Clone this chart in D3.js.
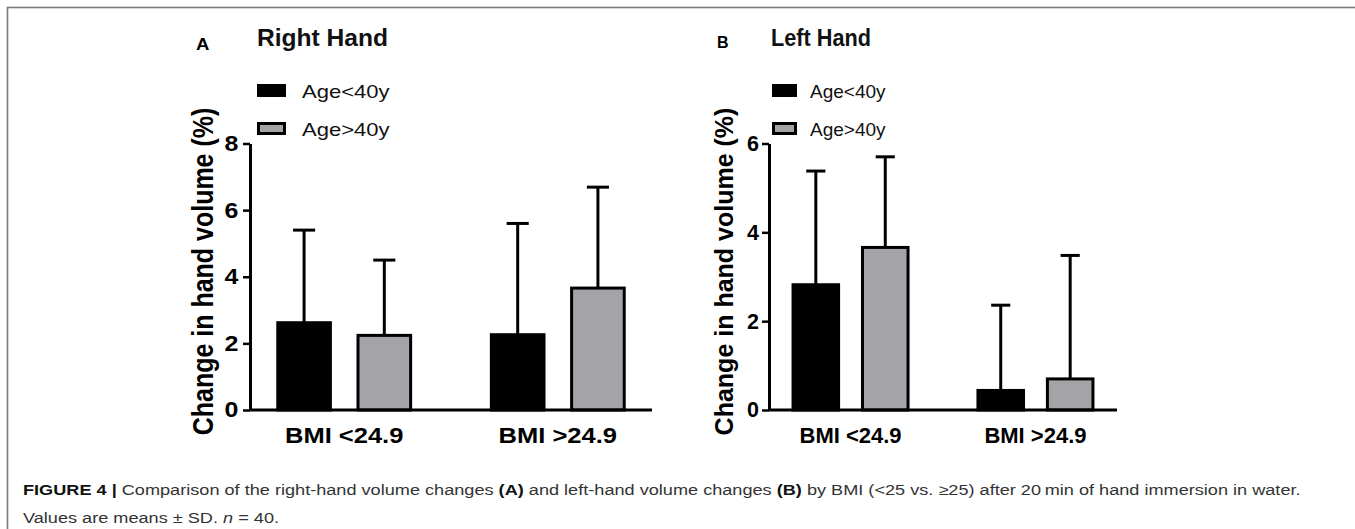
<!DOCTYPE html>
<html>
<head>
<meta charset="utf-8">
<script src="https://cdn.jsdelivr.net/npm/d3@7"></script>
<style>
  html, body { margin: 0; padding: 0; background: #fff; }
  svg { display: block; }
</style>
</head>
<body>
<svg id="chart" width="1355" height="529"></svg>
<script>
// ---------- DATA ----------
const groups = ["BMI <24.9", "BMI >24.9"];
const seriesNames = ["Age<40y", "Age>40y"];

// Panel A: Right hand
const rightYoungMean = [2.62, 2.26];
const rightYoungSD   = [2.78, 3.34];
const rightOldMean   = [2.24, 3.66];
const rightOldSD     = [2.26, 3.03];
const rightTicks     = [0, 2, 4, 6, 8];

// Panel B: Left hand
const leftYoungMean = [2.82, 0.44];
const leftYoungSD   = [2.56, 1.92];
const leftOldMean   = [3.66, 0.70];
const leftOldSD     = [2.04, 2.78];
const leftTicks     = [0, 2, 4, 6];

const yLabel = "Change in hand volume (%)";

// ---------- STYLE ----------
const colors = ["#000000", "#a4a3a8"];
const svg = d3.select("#chart");

// frame
svg.append("rect")
  .attr("x", 7.5).attr("y", 7.5).attr("width", 1400).attr("height", 600)
  .attr("fill", "none").attr("stroke", "#7a7a7a").attr("stroke-width", 1.6);

function panel(cfg) {
  const g = svg.append("g");
  const y = d3.scaleLinear().domain([0, d3.max(cfg.ticks)]).range([410, 143.5]);
  const x0 = d3.scaleBand().domain(groups).range([cfg.axisX, cfg.xEnd])
    .paddingInner(0.378).paddingOuter(0.13);
  const x1 = d3.scaleBand().domain(seriesNames).range([0, x0.bandwidth()])
    .paddingInner(0.344).paddingOuter(0);

  const rows = [];
  groups.forEach((grp, i) => {
    seriesNames.forEach((s, j) => {
      rows.push({ grp, s, j, mean: cfg.means[j][i], sd: cfg.sds[j][i] });
    });
  });

  // error bars (drawn behind bars)
  const capW = x1.bandwidth() * 0.42;
  rows.forEach(d => {
    const cx = x0(d.grp) + x1(d.s) + x1.bandwidth() / 2;
    g.append("line").attr("x1", cx).attr("x2", cx)
      .attr("y1", y(d.mean)).attr("y2", y(d.mean + d.sd))
      .attr("stroke", "#000").attr("stroke-width", 3);
    g.append("line").attr("x1", cx - capW / 2).attr("x2", cx + capW / 2)
      .attr("y1", y(d.mean + d.sd)).attr("y2", y(d.mean + d.sd))
      .attr("stroke", "#000").attr("stroke-width", 3);
  });

  // bars
  g.selectAll("rect.bar").data(rows).join("rect")
    .attr("class", "bar")
    .attr("x", d => x0(d.grp) + x1(d.s))
    .attr("width", x1.bandwidth())
    .attr("y", d => y(d.mean))
    .attr("height", d => y(0) - y(d.mean))
    .attr("fill", d => colors[d.j])
    .attr("stroke", "#000").attr("stroke-width", 3);

  // y axis
  const ax = g.append("g").attr("transform", `translate(${cfg.axisX},0)`)
    .call(d3.axisLeft(y).tickValues(cfg.ticks).tickFormat(d3.format("d"))
      .tickSize(7).tickSizeOuter(0).tickPadding(3));
  ax.select(".domain").attr("stroke", "#000").attr("stroke-width", 3);
  ax.selectAll(".tick line").attr("stroke", "#000").attr("stroke-width", 2.5);
  ax.selectAll(".tick text")
    .attr("font-family", "Liberation Sans, Arial, sans-serif")
    .attr("font-weight", "bold").attr("font-size", 21.5).attr("fill", "#000")
    .attr("transform", `scale(${cfg.sx},1)`);

  // x axis baseline
  g.append("line").attr("x1", cfg.axisX).attr("x2", cfg.xEnd)
    .attr("y1", y(0)).attr("y2", y(0))
    .attr("stroke", "#000").attr("stroke-width", 3);

  // x labels
  groups.forEach(grp => {
    const cx = x0(grp) + x0.bandwidth() / 2;
    g.append("text")
      .attr("transform", `translate(${cx},443) scale(${cfg.sx},1)`)
      .attr("text-anchor", "middle")
      .attr("font-family", "Liberation Sans, Arial, sans-serif")
      .attr("font-weight", "bold").attr("font-size", 22).attr("fill", "#000")
      .text(grp);
  });

  // y label
  g.append("text")
    .attr("transform", `translate(${cfg.yLabelX},271.5) scale(${cfg.sx},1) rotate(-90)`)
    .attr("text-anchor", "middle")
    .attr("font-family", "Liberation Sans, Arial, sans-serif")
    .attr("font-weight", "bold").attr("font-size", 25).attr("fill", "#000")
    .text(yLabel);

  // panel letter
  g.append("text")
    .attr("transform", `translate(${cfg.letterX},${cfg.letterY}) scale(${cfg.sx},1)`)
    .attr("font-family", "Liberation Sans, Arial, sans-serif")
    .attr("font-weight", "bold").attr("font-size", 16).attr("fill", "#000")
    .text(cfg.letter);

  // title
  g.append("text")
    .attr("x", cfg.titleX).attr("y", 46)
    .attr("font-family", "Liberation Sans, Arial, sans-serif")
    .attr("font-weight", "bold").attr("font-size", 23).attr("fill", "#111")
    .attr("textLength", cfg.titleW).attr("lengthAdjust", "spacingAndGlyphs")
    .text(cfg.title);

  // legend
  const legY = [84, 122];
  seriesNames.forEach((s, j) => {
    g.append("rect")
      .attr("x", cfg.legX + 1.5).attr("y", legY[j] + 1.5)
      .attr("width", cfg.boxW - 3).attr("height", 10)
      .attr("fill", colors[j]).attr("stroke", "#000").attr("stroke-width", 3);
    g.append("text")
      .attr("transform", `translate(${cfg.legTextX},${legY[j] + 14}) scale(${cfg.sx},1)`)
      .attr("font-family", "Liberation Sans, Arial, sans-serif")
      .attr("font-size", 19).attr("fill", "#111")
      .text(s);
  });
}

panel({
  letter: "A", title: "Right Hand", titleW: 131,
  means: [rightYoungMean, rightOldMean], sds: [rightYoungSD, rightOldSD], ticks: rightTicks,
  axisX: 250, xEnd: 652, sx: 1.16,
  letterX: 196, letterY: 50, titleX: 257,
  legX: 257, boxW: 29, legTextX: 302, yLabelX: 213
});

panel({
  letter: "B", title: "Left Hand", titleW: 100,
  means: [leftYoungMean, leftOldMean], sds: [leftYoungSD, leftOldSD], ticks: leftTicks,
  axisX: 769, xEnd: 1117, sx: 1.0,
  letterX: 717, letterY: 47.5, titleX: 771,
  legX: 772, boxW: 25, legTextX: 810, yLabelX: 733
});

// caption (stretched horizontally so line 1 spans x 23 -> 1300 as in the figure)
const capOuter = svg.append("g").attr("transform", "translate(23,0)");
const cap = capOuter.append("g").attr("font-family", "Liberation Sans, Arial, sans-serif")
  .attr("font-size", 14.7).attr("fill", "#333");
const l1 = cap.append("text").attr("x", 0).attr("y", 495);
l1.append("tspan").attr("font-weight", "bold").attr("fill", "#111").text("FIGURE 4 | ");
l1.append("tspan").text("Comparison of the right-hand volume changes ");
l1.append("tspan").attr("font-weight", "bold").attr("fill", "#111").text("(A)");
l1.append("tspan").text(" and left-hand volume changes ");
l1.append("tspan").attr("font-weight", "bold").attr("fill", "#111").text("(B)");
l1.append("tspan").text(" by BMI (<25 vs. \u226525) after 20\u2009min of hand immersion in water.");
const l2 = cap.append("text").attr("x", 0).attr("y", 523);
l2.append("tspan").text("Values are means \u00b1 SD. ");
l2.append("tspan").attr("font-style", "italic").text("n");
l2.append("tspan").text(" = 40.");
const w1 = l1.node().getComputedTextLength();
if (w1 > 0) cap.attr("transform", `scale(${1277 / w1},1)`);
</script>
</body>
</html>
